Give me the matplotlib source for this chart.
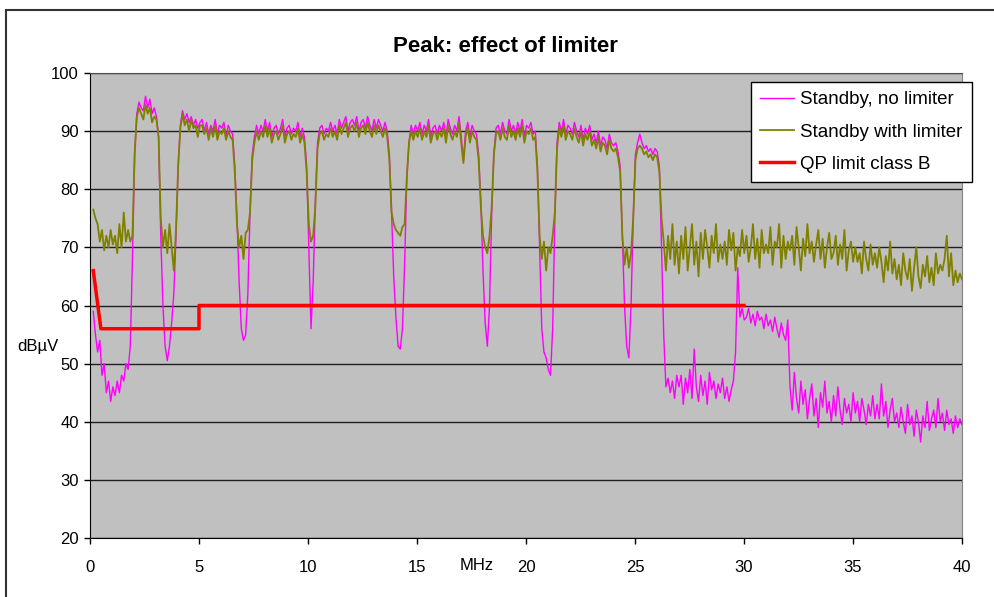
"""
Peak scan: effect of the limiter, with the QP class B limit line.
"""

import numpy as np
import matplotlib
matplotlib.use("Agg")
import matplotlib.pyplot as plt
from matplotlib.patches import Rectangle

plt.rcParams["font.family"] = ["Liberation Sans", "DejaVu Sans"]

# one row per MHz, ~0.1 MHz steps
peak_no_limiter = [
    59, 55, 52, 54, 48, 50, 45, 47, 43.5, 46,
    44.5, 47, 45, 48, 47, 50, 49, 53, 68, 86,
    93, 95, 94, 93.5, 96, 94, 95.5, 93, 94, 92.5,
    89, 72, 60, 53, 50.5, 53, 57, 62, 72, 84,
    91, 93.5, 92, 93, 91.5, 92.5, 91, 92, 90.5, 91.5,
    92, 90, 91.5, 89.5, 91, 90, 92, 89.5, 91, 90.5,
    91.5, 89, 91, 90, 89.5, 84, 75, 64, 56, 54,
    55, 62, 76, 86, 89, 91, 89.5, 91, 90, 92,
    90, 91.5, 89, 90.5, 91, 89.5, 90.5, 92, 89, 90.5,
    91, 89.5, 90.5, 90, 91.5, 89, 90.5, 89, 84, 70,
    56, 64, 78, 88, 90.5, 91, 89.5, 90.5, 90, 91.5,
    90, 91, 89.5, 92, 90.5, 91.5, 92.5, 90, 91.5, 92,
    91, 92.5, 90, 91.5, 92, 90.5, 92.5, 91, 90, 92,
    90.5, 92, 91, 90, 91.5, 90, 86, 76, 65, 58,
    53, 52.5, 56, 67, 82, 88, 91, 89.5, 91, 90,
    91.5, 89.5, 91, 90, 92, 89, 90.5, 91, 89.5, 91,
    90, 91.5, 89, 92, 90.5, 89.5, 91, 90, 92.5, 89,
    85, 90, 91.5, 89, 91, 90, 89.5, 86, 78, 66,
    57, 53, 60, 76, 86, 90.5, 91, 89.5, 91.5, 90,
    89.5, 92, 90, 91, 89.5, 91.5, 90, 92, 89, 91,
    90.5, 91.5, 89.5, 90, 84, 70, 56, 52, 51, 49,
    48, 56, 75, 88, 91.5, 90, 92, 89.5, 91, 90.5,
    89.5, 91.5, 90, 89, 91, 88.5, 90.5, 89.5, 91, 88.5,
    89.5, 88, 90, 87.5, 89, 88.5, 87, 89.5, 88, 87.5,
    88, 86.5, 84, 72, 60, 53, 51, 60, 75, 86,
    88, 89.5, 88, 87, 87.5, 86.5, 87, 86, 87, 86.5,
    84, 70, 55, 46, 47.5, 45, 47, 44, 48, 46,
    48, 43, 47.5, 45, 49, 44, 52.5, 46, 43.5, 48,
    44.5, 47, 43, 48.5, 45.5, 47, 44, 46.5, 45, 47.5,
    44, 46, 43.5, 45.5, 47, 52, 66.5, 58, 59.5, 57.5,
    58, 59.5, 57, 58.5, 56.5, 59, 57.5, 58, 56, 58.5,
    56.5, 57.5, 55.5, 58, 56, 54.5, 57, 55, 54, 57.5,
    46, 42, 48.5, 44, 41.5, 47, 43, 45.5, 40.5, 44,
    46.5, 41, 44, 39, 45, 42.5, 47, 41.5, 43.5, 40,
    44.5, 41, 46, 42, 39.5, 44, 41.5, 43, 40, 45,
    41.5, 43.5, 40, 44, 42, 39.5, 43, 41, 44.5, 40.5,
    43, 40.5, 46.5, 41, 43.5, 39, 42, 44, 40, 41.5,
    39, 42.5, 40, 38, 43, 39.5, 41, 37.5, 42, 40,
    36.5, 41, 39, 43.5, 38.5, 40.5, 42, 39, 44, 40,
    41.5, 38.5, 42, 39.5, 40.5, 38, 41, 39, 40.5, 39.5,
]

peak_with_limiter = [
    76.5, 75, 74, 71, 73, 69.5, 72, 70, 73, 70.5,
    72, 69, 74, 70, 76, 71, 73, 71, 72, 86,
    92.5, 94, 93, 92, 94.5, 93, 94, 91.5, 92.5, 92,
    89, 75, 70, 73, 69, 74, 70, 66, 73, 84,
    90.5, 93, 91, 92, 90, 92, 90.5, 91, 89, 91,
    91, 89.5, 90.5, 88.5, 90.5, 89, 91, 88.5, 90, 89.5,
    90.5, 88.5, 90, 89, 88.5, 83, 74, 70, 72, 68,
    72.5, 73, 76, 85, 88, 90, 88.5, 90, 89, 91,
    89, 90.5, 88, 89.5, 90, 88.5, 89.5, 91, 88, 89.5,
    90, 88.5, 89.5, 89, 90.5, 88, 89.5, 88, 83, 74,
    71, 72, 77, 87, 89.5, 90, 88.5, 89.5, 89, 90.5,
    89, 90, 88.5, 91, 89.5, 90.5, 91.5, 89, 90.5, 91,
    90, 91.5, 89, 90.5, 91, 89.5, 91.5, 90, 89, 91,
    89.5, 91, 90, 89, 90.5, 89, 85, 76, 74, 73,
    72.5, 72, 73.5, 74, 82, 88, 90, 88.5, 90, 89,
    90.5, 88.5, 90, 89, 91, 88, 89.5, 90, 88.5, 90,
    89, 90.5, 88, 91, 89.5, 88.5, 90, 89, 91.5, 88,
    84.5, 89, 90.5, 88, 90, 89, 88.5, 85, 77, 72,
    70, 69, 72, 77, 86, 89.5, 90, 88.5, 90.5, 89,
    88.5, 91, 89, 90, 88.5, 90.5, 89, 91, 88, 90,
    89.5, 90.5, 88.5, 89, 83, 72, 68, 71, 66, 70,
    69, 72, 76, 87, 90.5, 89, 91, 88.5, 90, 89.5,
    88.5, 90.5, 89, 88, 90, 87.5, 89.5, 88.5, 90, 87.5,
    88.5, 87, 89, 86.5, 88, 87.5, 86, 88.5, 87, 86.5,
    87, 85.5, 83, 72, 67, 70, 66.5, 69, 75, 85,
    87, 87.5, 87, 86, 86.5, 85.5, 86, 85, 86, 85.5,
    83, 75, 71, 66, 72, 68, 74, 67, 71, 65.5,
    72, 68, 73.5, 66, 70, 74, 67, 71, 65, 72.5,
    68, 73, 70, 66.5, 72, 69, 74, 67.5, 70.5, 68,
    71, 67, 73, 69.5, 72.5, 66, 70, 68.5, 73, 69,
    72, 67.5, 70, 74, 68, 71.5, 66.5, 73, 69, 70.5,
    69, 73.5, 67, 71, 70, 74, 66.5, 72, 68, 71,
    69.5, 72, 67, 73.5, 70, 66, 71.5, 68.5, 74, 69,
    71, 67.5, 70.5, 73, 68, 71.5, 66.5, 70, 72.5, 68,
    69, 72, 67, 70.5, 68, 73, 66, 69.5, 71, 67.5,
    70, 67.5, 69, 65.5, 71, 68, 66, 70.5, 67, 69,
    66.5, 70, 67.5, 64, 68.5, 66, 71, 65.5, 68, 64.5,
    67, 63.5, 69, 66, 64.5, 68, 62.5, 66.5, 70, 65,
    63, 67, 65, 68.5, 64, 66.5, 63.5, 69, 65.5, 67,
    66, 68, 72, 65, 69, 63.5, 66, 64, 65.5, 64.5,
]

# QP limit, EN 55022 class B (linear interpolation between corners)
limit_freq = [0.15, 0.5, 5, 5, 30]
limit_level = [66, 56, 56, 60, 60]

freq = np.linspace(0.15, 40.0, len(peak_no_limiter))

fig = plt.figure(figsize=(9.95, 5.97), dpi=100)
ax = fig.add_axes([90 / 995, 1 - 538 / 597, 872 / 995, 465 / 597])
ax.set_facecolor("#c0c0c0")

ax.plot(freq, peak_no_limiter, color="#ff00ff", lw=1.0, label="Standby, no limiter", zorder=3)
ax.plot(freq, peak_with_limiter, color="#808000", lw=1.3, label="Standby with limiter", zorder=4)
ax.plot(limit_freq, limit_level, color="#ff0000", lw=2.5, label="QP limit class B", zorder=5)

ax.set_xlim(0, 40)
ax.set_ylim(20, 100)
ax.set_xticks(range(0, 41, 5))
ax.set_yticks(range(20, 101, 10))
ax.yaxis.grid(True, color="#202020", lw=1.0, zorder=1)
ax.set_axisbelow(True)
ax.tick_params(axis="both", direction="out", length=4, width=1, labelsize=12, color="black")
ax.tick_params(axis="x", pad=12)
ax.tick_params(axis="y", pad=4)

ax.spines["left"].set_color("black")
ax.spines["bottom"].set_color("black")
ax.spines["top"].set_color("#505050")
ax.spines["right"].set_color("#808080")

fig.text(505 / 995, 1 - 47 / 597, "Peak: effect of limiter", ha="center", va="center",
         fontsize=16, fontweight="bold")
fig.text(38 / 995, 1 - 346 / 597, "dBµV", ha="center", va="center", fontsize=12)
fig.text(477 / 995, 1 - 566 / 597, "MHz", ha="center", va="center", fontsize=12)

leg = ax.legend(loc="upper right", bbox_to_anchor=(972 / 872 - 90 / 872, (538 - 82) / 465),
                borderaxespad=0, fontsize=13.5, frameon=True, fancybox=False, framealpha=1,
                edgecolor="black", handlelength=1.8, handletextpad=0.35,
                borderpad=0.5, labelspacing=0.8)
leg.get_frame().set_linewidth(1.0)
leg.set_zorder(10)

# outer chart border (right and bottom edges fall outside the image)
fig.add_artist(Rectangle((6 / 995, -0.2), 1.3, 1.2 - 10 / 597, transform=fig.transFigure,
                         fill=False, lw=1.5, ec="#333333"))

fig.savefig("out.png", dpi=100)
